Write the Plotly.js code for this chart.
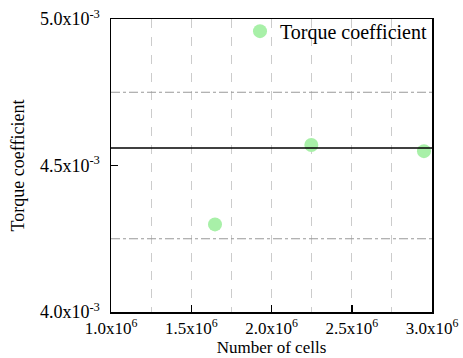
<!DOCTYPE html>
<html><head><meta charset="utf-8">
<script src="https://cdn.plot.ly/plotly-3.0.1.min.js"></script>
<style>html,body{margin:0;padding:0;background:#fff;}#plot{width:463px;height:358px;}</style>
</head><body><div id="plot"></div>
<script>
var cells = [1.648e6, 2.248e6, 2.95e6];
var torque = [4.299e-3, 4.570e-3, 4.549e-3];
var meanValue = 4.56e-3;
var bandValues = [4.75e-3, 4.25e-3];
var xTickVals = [1.0e6, 1.5e6, 2.0e6, 2.5e6, 3.0e6];
var xTickText = ['1.0x10<sup>6</sup>','1.5x10<sup>6</sup>','2.0x10<sup>6</sup>','2.5x10<sup>6</sup>','3.0x10<sup>6</sup>'];
var yTickVals = [4.0e-3, 4.5e-3, 5.0e-3];
var yTickText = ['4.0x10<sup>-3</sup>','4.5x10<sup>-3</sup>','5.0x10<sup>-3</sup>'];
var xRange = [1.0e6, 3.0e6];
var yRange = [4.0e-3, 5.0e-3];

var fam = '"Liberation Serif", "Times New Roman", serif';
var tickFont = {family: fam, size: 17, color: '#000'};
var yTickFont = {family: fam, size: 18, color: '#000'};
var titleFont = {family: fam, size: 17, color: '#000'};
var yTitleFont = {family: fam, size: 18, color: '#000'};
var legendFont = {family: fam, size: 20, color: '#000'};

var shapes = [{type:'line', xref:'paper', x0:0, x1:1, yref:'y', y0:meanValue, y1:meanValue,
  line:{color:'#000', width:1.5}}];
bandValues.forEach(function(v){
  shapes.push({type:'line', xref:'paper', x0:0, x1:1, yref:'y', y0:v, y1:v,
    line:{color:'#999', width:1, dash:'dashdot'}});
});

var data = [{
  x: cells, y: torque, type:'scatter', mode:'markers', name:'Torque coefficient',
  marker:{color:'#a8f0a8', size:14}, cliponaxis:false
}];

var layout = {
  width:463, height:358,
  margin:{l:111, r:31, t:17, b:46},
  paper_bgcolor:'#fff', plot_bgcolor:'#fff',
  font: tickFont,
  showlegend:true,
  legend:{x:1, xanchor:'right', y:1.025, yanchor:'top', bgcolor:'rgba(0,0,0,0)', font:legendFont,
    itemwidth:30, borderwidth:0, tracegroupgap:0},
  xaxis:{range:xRange, tickmode:'array', tickvals:xTickVals, ticktext:xTickText,
    ticks:'inside', ticklen:7, tickwidth:1.5, tickcolor:'#000',
    showline:true, linecolor:'#000', linewidth:1.5, mirror:true,
    showgrid:true, gridcolor:'#cccccc', griddash:'dash', gridwidth:1,
    minor:{tick0:1e6, dtick:0.25e6, showgrid:true, gridcolor:'#cccccc', griddash:'dash', gridwidth:1, ticks:''},
    zeroline:false, tickfont:tickFont,
    title:{text:'Number of cells', font:titleFont, standoff:0}},
  yaxis:{range:yRange, tickmode:'array', tickvals:yTickVals, ticktext:yTickText,
    ticks:'inside', ticklen:7, tickwidth:1.5, tickcolor:'#000',
    showline:true, linecolor:'#000', linewidth:1.5, mirror:true,
    showgrid:false, zeroline:false, tickfont:yTickFont, ticklabelstandoff:6,
    title:{text:'Torque coefficient', font:yTitleFont, standoff:10}},
  shapes: shapes
};

Plotly.newPlot('plot', data, layout, {displayModeBar:false, staticPlot:true});
</script></body></html>
